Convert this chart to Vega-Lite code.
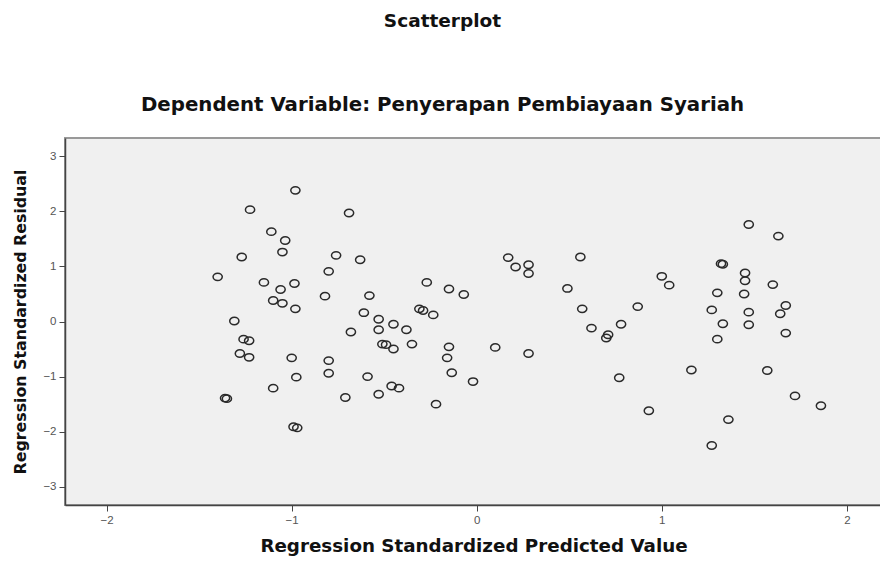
{
  "$schema": "https://vega.github.io/schema/vega-lite/v6.json",
  "width": 817,
  "height": 367,
  "autosize": "none",
  "padding": {"left": 65, "top": 138, "right": 0, "bottom": 61},
  "background": "white",
  "title": {
    "text": "Scatterplot",
    "subtitle": "Dependent Variable: Penyerapan Pembiayaan Syariah",
    "anchor": "middle",
    "dx": -31,
    "offset": 23,
    "font": "DejaVu Sans",
    "fontSize": 18.5,
    "fontWeight": "bold",
    "color": "#111",
    "subtitleFont": "DejaVu Sans",
    "subtitleFontSize": 19.8,
    "subtitleFontWeight": "bold",
    "subtitleColor": "#111",
    "subtitlePadding": 65
  },
  "data": {
    "values": [
      {"pred": -1.40, "resid": 0.81}, {"pred": -1.31, "resid": 0.01}, {"pred": -1.27, "resid": 1.17},
      {"pred": -1.26, "resid": -0.32}, {"pred": -1.23, "resid": -0.35}, {"pred": -1.28, "resid": -0.58},
      {"pred": -1.23, "resid": -0.65}, {"pred": -1.36, "resid": -1.39}, {"pred": -1.35, "resid": -1.40},
      {"pred": -1.225, "resid": 2.03}, {"pred": -1.15, "resid": 0.71}, {"pred": -1.11, "resid": 1.63},
      {"pred": -1.10, "resid": 0.38}, {"pred": -1.10, "resid": -1.21}, {"pred": -1.05, "resid": 1.26},
      {"pred": -1.035, "resid": 1.47}, {"pred": -1.06, "resid": 0.58}, {"pred": -1.05, "resid": 0.33},
      {"pred": -1.00, "resid": -0.66}, {"pred": -0.98, "resid": 2.38}, {"pred": -0.985, "resid": 0.69},
      {"pred": -0.98, "resid": 0.23}, {"pred": -0.975, "resid": -1.01}, {"pred": -0.99, "resid": -1.91},
      {"pred": -0.97, "resid": -1.93}, {"pred": -0.82, "resid": 0.46}, {"pred": -0.80, "resid": 0.91},
      {"pred": -0.76, "resid": 1.20}, {"pred": -0.80, "resid": -0.71}, {"pred": -0.80, "resid": -0.94},
      {"pred": -0.69, "resid": 1.97}, {"pred": -0.68, "resid": -0.19}, {"pred": -0.71, "resid": -1.38},
      {"pred": -0.63, "resid": 1.12}, {"pred": -0.61, "resid": 0.16}, {"pred": -0.58, "resid": 0.47},
      {"pred": -0.59, "resid": -1.00}, {"pred": -0.53, "resid": 0.04}, {"pred": -0.53, "resid": -0.15},
      {"pred": -0.53, "resid": -1.32}, {"pred": -0.51, "resid": -0.41}, {"pred": -0.49, "resid": -0.42},
      {"pred": -0.45, "resid": -0.05}, {"pred": -0.45, "resid": -0.50}, {"pred": -0.46, "resid": -1.17},
      {"pred": -0.42, "resid": -1.21}, {"pred": -0.38, "resid": -0.15}, {"pred": -0.35, "resid": -0.41},
      {"pred": -0.31, "resid": 0.23}, {"pred": -0.29, "resid": 0.20}, {"pred": -0.27, "resid": 0.71},
      {"pred": -0.235, "resid": 0.12}, {"pred": -0.22, "resid": -1.50}, {"pred": -0.15, "resid": 0.59},
      {"pred": -0.15, "resid": -0.46}, {"pred": -0.16, "resid": -0.66}, {"pred": -0.135, "resid": -0.93},
      {"pred": -0.07, "resid": 0.49}, {"pred": -0.02, "resid": -1.09}, {"pred": 0.10, "resid": -0.47},
      {"pred": 0.17, "resid": 1.16}, {"pred": 0.21, "resid": 0.99}, {"pred": 0.28, "resid": 1.03},
      {"pred": 0.28, "resid": 0.87}, {"pred": 0.28, "resid": -0.58}, {"pred": 0.49, "resid": 0.60},
      {"pred": 0.56, "resid": 1.17}, {"pred": 0.57, "resid": 0.23}, {"pred": 0.62, "resid": -0.12},
      {"pred": 0.71, "resid": -0.24}, {"pred": 0.70, "resid": -0.30}, {"pred": 0.78, "resid": -0.05},
      {"pred": 0.77, "resid": -1.02}, {"pred": 0.87, "resid": 0.27}, {"pred": 0.93, "resid": -1.62},
      {"pred": 1.00, "resid": 0.82}, {"pred": 1.04, "resid": 0.66}, {"pred": 1.16, "resid": -0.88},
      {"pred": 1.27, "resid": 0.21}, {"pred": 1.27, "resid": -2.25}, {"pred": 1.30, "resid": 0.52},
      {"pred": 1.30, "resid": -0.32}, {"pred": 1.32, "resid": 1.05}, {"pred": 1.33, "resid": 1.04},
      {"pred": 1.33, "resid": -0.04}, {"pred": 1.36, "resid": -1.78}, {"pred": 1.45, "resid": 0.88},
      {"pred": 1.45, "resid": 0.74}, {"pred": 1.445, "resid": 0.50}, {"pred": 1.47, "resid": 0.17},
      {"pred": 1.47, "resid": -0.06}, {"pred": 1.47, "resid": 1.76}, {"pred": 1.57, "resid": -0.89},
      {"pred": 1.60, "resid": 0.67}, {"pred": 1.63, "resid": 1.55}, {"pred": 1.64, "resid": 0.14},
      {"pred": 1.67, "resid": 0.29}, {"pred": 1.67, "resid": -0.21}, {"pred": 1.72, "resid": -1.35},
      {"pred": 1.86, "resid": -1.53}
    ]
  },
  "mark": {
    "type": "point",
    "shape": "M-1,0A1,0.8,0,1,1,1,0A1,0.8,0,1,1,-1,0Z",
    "filled": false,
    "size": 85,
    "stroke": "#2a2a2a",
    "strokeWidth": 1.5,
    "opacity": 1,
    "clip": true
  },
  "encoding": {
    "x": {
      "field": "pred",
      "type": "quantitative",
      "title": "Regression Standardized Predicted Value",
      "scale": {"domain": [-2.225, 2.19], "nice": false, "zero": false},
      "axis": {"values": [-2, -1, 0, 1, 2], "titlePadding": 12, "titleFontSize": 18.3}
    },
    "y": {
      "field": "resid",
      "type": "quantitative",
      "title": "Regression Standardized Residual",
      "scale": {"domain": [-3.33, 3.33], "nice": false, "zero": false},
      "axis": {"values": [-3, -2, -1, 0, 1, 2, 3], "titlePadding": 14, "titleFontSize": 15.8}
    }
  },
  "config": {
    "view": {"fill": "#f0f0f0", "stroke": "#999", "strokeWidth": 2},
    "axis": {
      "grid": false,
      "domainColor": "#444",
      "domainWidth": 1.5,
      "tickColor": "#444",
      "tickSize": 6,
      "labelColor": "#555",
      "labelFont": "Liberation Sans",
      "labelFontSize": 11.5,
      "labelPadding": 3,
      "titleFont": "DejaVu Sans",
      "titleFontWeight": "bold",
      "titleColor": "#111"
    }
  }
}
